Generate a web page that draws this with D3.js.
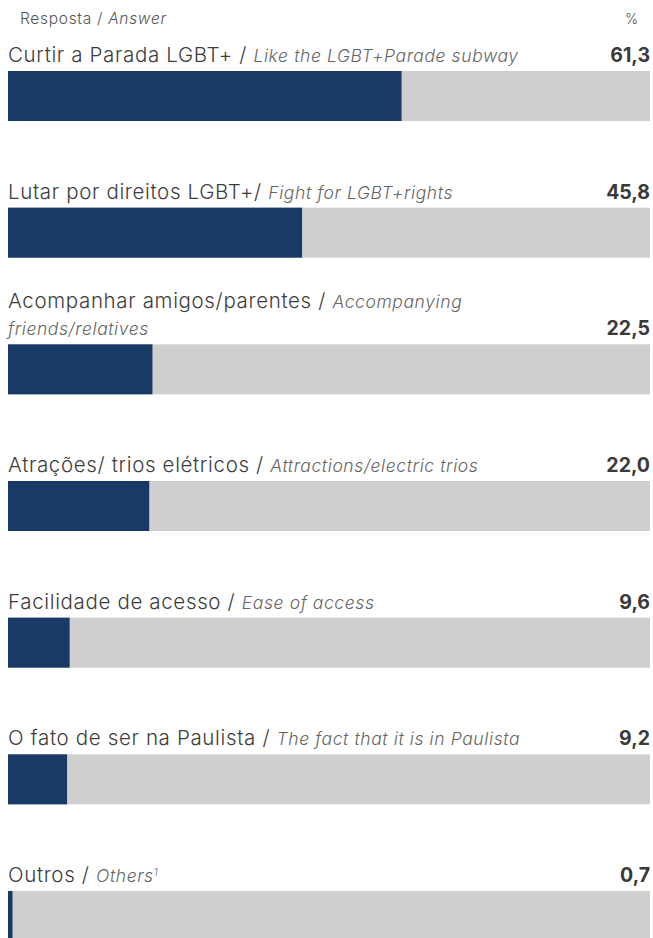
<!DOCTYPE html>
<html>
<head>
<meta charset="utf-8">
<script src="https://cdn.jsdelivr.net/npm/d3@7"></script>
<style>
  body { margin: 0; background: #fff; }
  svg { display: block; font-family: Inter, "Open Sans", sans-serif; }
</style>
</head>
<body>
<div id="chart"></div>
<script>
// Data
const labelsPt = [
    "Curtir a Parada LGBT+ /",
    "Lutar por direitos LGBT+/",
    "Acompanhar amigos/parentes /",
    "Atrações/ trios elétricos /",
    "Facilidade de acesso /",
    "O fato de ser na Paulista /",
    "Outros /"
];
// English part, "|" marks the line break used in the original
const labelsEn = [
    "Like the LGBT+Parade subway",
    "Fight for LGBT+rights",
    "Accompanying|friends/relatives",
    "Attractions/electric trios",
    "Ease of access",
    "The fact that it is in Paulista",
    "Others"
];
const footnotes = ["", "", "", "", "", "", "1"];
const values = [61.3, 45.8, 22.5, 22.0, 9.6, 9.2, 0.7];

const width = 653, height = 938;
const left = 8, right = 650;

const svg = d3.select("#chart").append("svg")
    .attr("width", width)
    .attr("height", height);

const rows = labelsPt.map((pt, i) => ({
    key: i, pt, en: labelsEn[i].split("|"), note: footnotes[i], value: values[i]
}));

// Scales
const x = d3.scaleLinear().domain([0, 100]).range([left, right]);
const y = d3.scaleBand()
    .domain(rows.map(d => d.key))
    .range([71, 941])
    .paddingInner(0.634)
    .paddingOuter(0);

const fmt = v => d3.format(".1f")(v).replace(".", ",");

// Header
svg.append("text")
    .attr("x", 20).attr("y", 24)
    .attr("font-size", 15.5).attr("font-weight", 300).attr("fill", "#555")
    .attr("letter-spacing", 0.7)
    .text("Resposta / ")
    .append("tspan").attr("font-style", "italic").text("Answer");

svg.append("text")
    .attr("x", 638).attr("y", 24)
    .attr("text-anchor", "end")
    .attr("font-size", 14).attr("font-weight", 300).attr("fill", "#555")
    .text("%");

const row = svg.selectAll(".row")
    .data(rows)
    .join("g")
    .attr("class", "row");

// Background track
row.append("rect")
    .attr("x", x(0))
    .attr("y", d => y(d.key))
    .attr("width", x(100) - x(0))
    .attr("height", y.bandwidth())
    .attr("fill", "#d0cfd0");

// Value bar
row.append("rect")
    .attr("x", x(0))
    .attr("y", d => y(d.key))
    .attr("width", d => x(d.value) - x(0))
    .attr("height", y.bandwidth())
    .attr("fill", "#1a3a66");

// Labels (last line sits just above the bar)
const lineH = 27;
row.each(function(d) {
    const g = d3.select(this);
    const base = y(d.key) - 9;
    const nLines = d.en.length;
    const t = g.append("text")
        .attr("x", left)
        .attr("y", base - (nLines - 1) * lineH)
        .attr("font-size", 20.5).attr("font-weight", 300).attr("fill", "#3d3d3d")
        .attr("letter-spacing", 0.65);
    t.append("tspan").text(d.pt + " ");
    t.append("tspan")
        .attr("font-style", "italic").attr("font-size", 17.5).attr("fill", "#666")
        .attr("letter-spacing", 0.6)
        .text(d.en[0]);
    if (d.note) {
        t.append("tspan")
            .attr("font-style", "italic").attr("font-size", 10).attr("fill", "#666")
            .attr("dy", -6).text(d.note);
    }
    for (let k = 1; k < nLines; k++) {
        g.append("text")
            .attr("x", left)
            .attr("y", base - (nLines - 1 - k) * lineH)
            .attr("font-size", 17.5).attr("font-weight", 300)
            .attr("letter-spacing", 0.6)
            .attr("font-style", "italic").attr("fill", "#666")
            .text(d.en[k]);
    }
    g.append("text")
        .attr("x", right)
        .attr("y", base)
        .attr("text-anchor", "end")
        .attr("font-size", 19.5).attr("font-weight", 700).attr("fill", "#3a3a3a")
        .text(fmt(d.value));
});
</script>
</body>
</html>
